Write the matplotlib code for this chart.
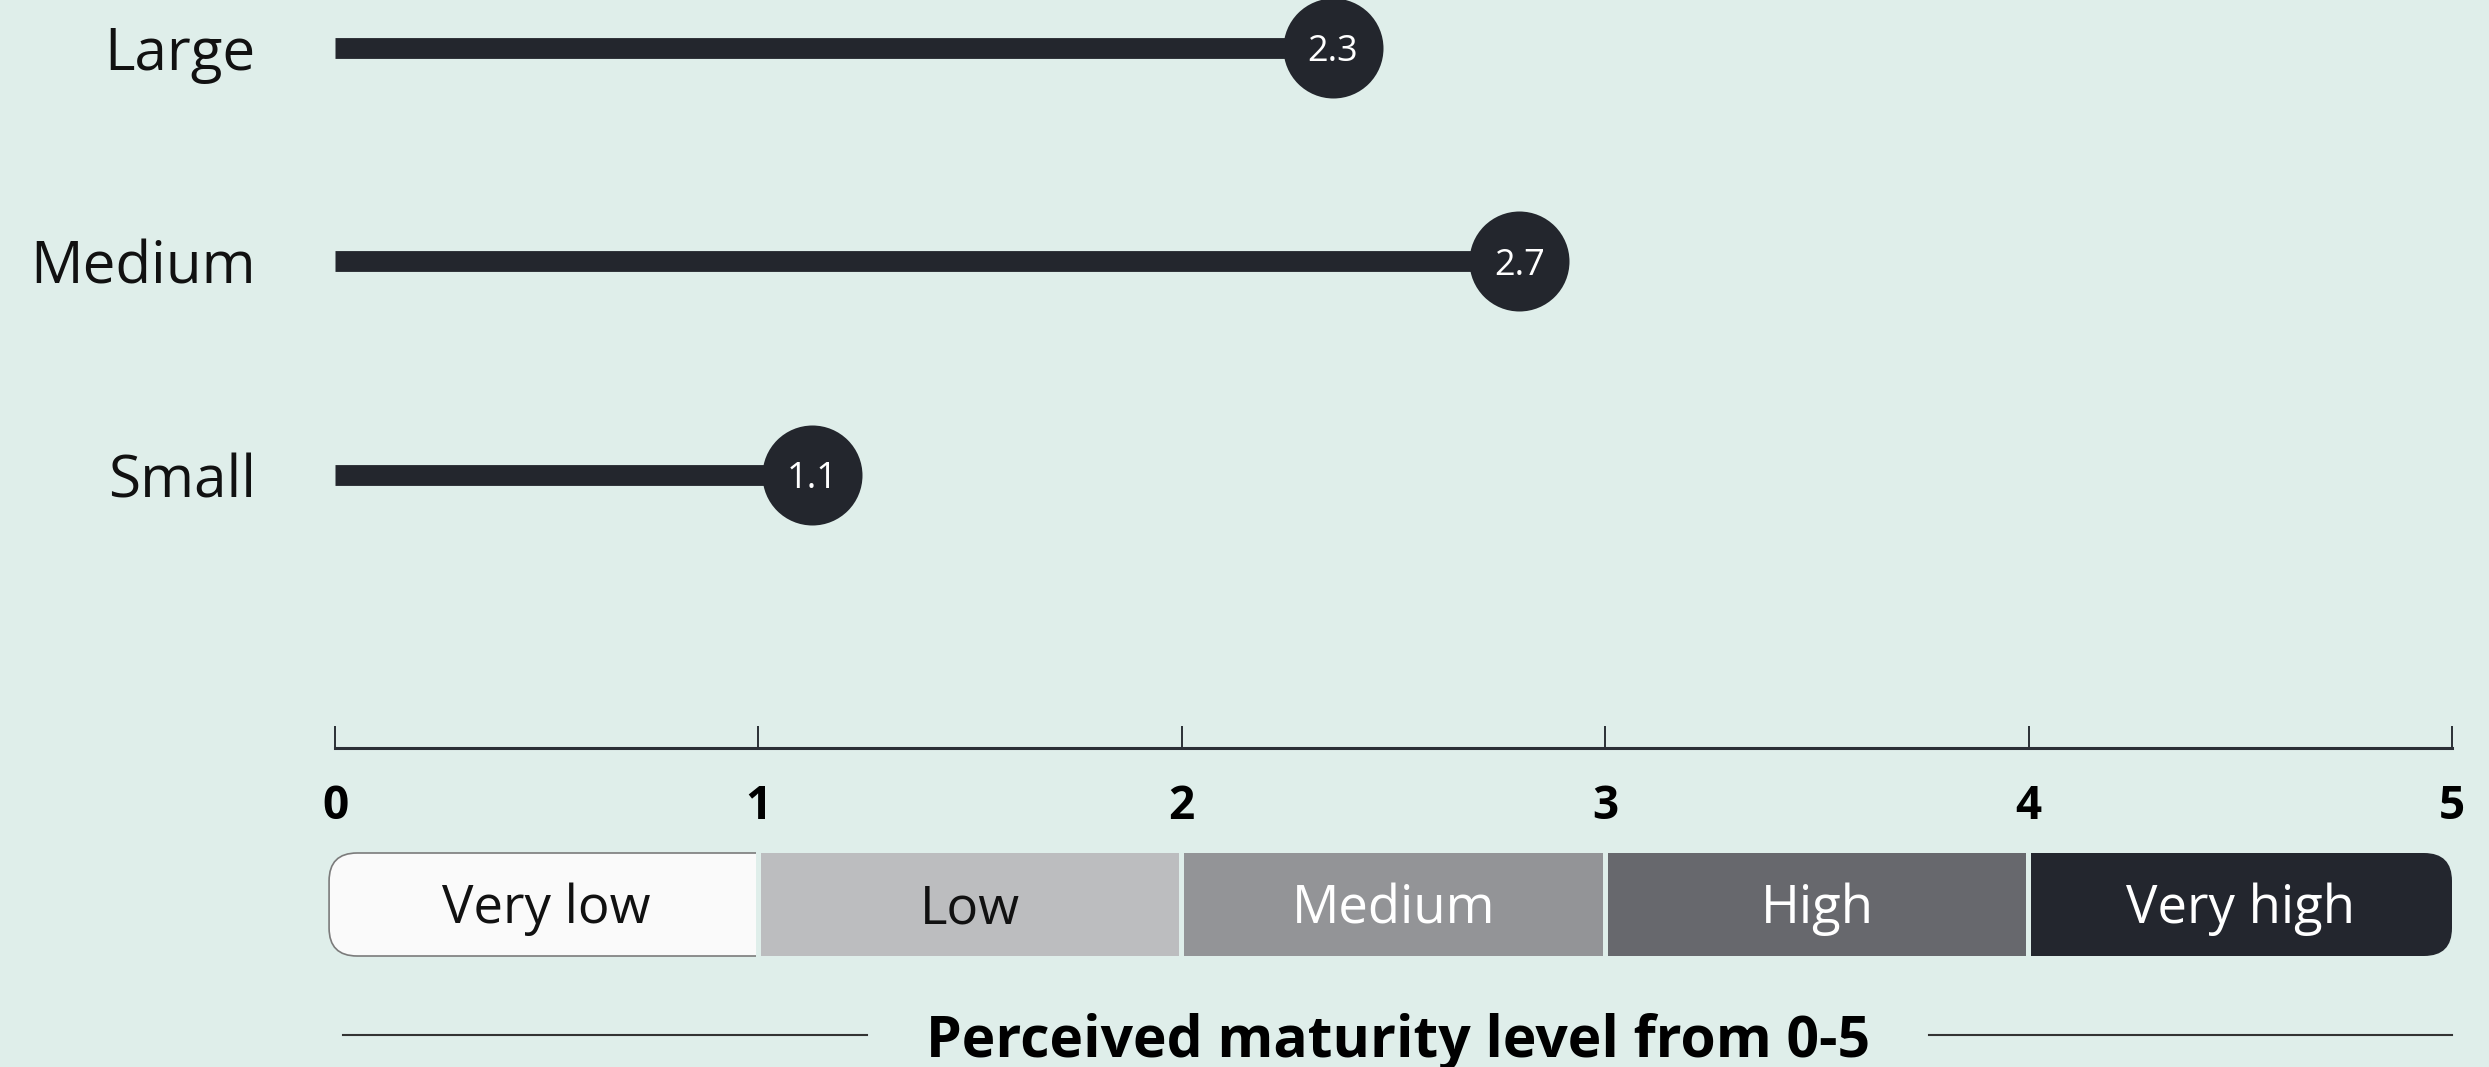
import matplotlib
matplotlib.use("Agg")
import matplotlib.pyplot as plt
from matplotlib.patches import FancyBboxPatch, Rectangle

# ---------------- data ----------------
categories = ["Small", "Medium", "Large"]
values = [1.1, 2.73, 2.3]
value_labels = ["1.1", "2.7", "2.3"]
scale_ticks = [0, 1, 2, 3, 4, 5]
level_names = ["Very low", "Low", "Medium", "High", "Very high"]
level_colors = ["#fafafa", "#bcbdbf", "#939497", "#67686d", "#23262e"]
level_text_colors = ["#111111", "#111111", "#ffffff", "#ffffff", "#ffffff"]
axis_title = "Perceived maturity level from 0-5"

BG = "#dfeeea"
DARK = "#23262d"

plt.rcParams["font.family"] = ["Open Sans", "DejaVu Sans"]

W, H = 2489, 1067
fig = plt.figure(figsize=(W / 100, H / 100), dpi=100)
fig.patch.set_facecolor(BG)


def px_rect(x0, y0, x1, y1):
    return [x0 / W, 1 - y1 / H, (x1 - x0) / W, (y1 - y0) / H]


# ---------------- top: lollipops ----------------
ax = fig.add_axes(px_rect(335, 0, 2452, 600))
ax.patch.set_alpha(0)
ax.set_xlim(0, 4.88)
ax.set_ylim(-0.5855, 2.2248)
ypos = list(range(len(categories)))
ax.hlines(ypos, 0, values, color=DARK, lw=15, capstyle="butt", zorder=2)
ax.plot(values, ypos, "o", ms=72, color=DARK, mec="none", clip_on=False, zorder=3)
for v, y, lab in zip(values, ypos, value_labels):
    ax.text(v, y, lab, ha="center", va="center_baseline", color="white",
            fontsize=26, zorder=4, clip_on=False)
ax.set_yticks(ypos, categories)
ax.tick_params(axis="y", length=0, pad=57, labelsize=42, labelcolor="#111111")
ax.set_xticks([])
for s in ax.spines.values():
    s.set_visible(False)

# ---------------- bottom: scale ----------------
axb = fig.add_axes(px_rect(335, 700, 2452, 1067))
axb.patch.set_alpha(0)
axb.set_xlim(0, 5)
axb.set_ylim(1067, 700)
for k, s in axb.spines.items():
    s.set_visible(k == "bottom")
axb.spines["bottom"].set_position(("data", 748))
axb.spines["bottom"].set_linewidth(2.2)
axb.spines["bottom"].set_color("#2b2f36")
axb.set_xticks(scale_ticks)
axb.set_xticklabels([str(t) for t in scale_ticks], fontweight="bold", fontsize=33)
axb.tick_params(axis="x", direction="in", length=16, width=1.4, color="#2b2f36",
                pad=25, labelcolor="#000000")
axb.set_yticks([])

# band
upx = 2117 / 5.0          # pixels per x unit
gap = 5 / upx
r = 28 / upx
band_top, band_h = 853, 103
n = len(level_names)
for i, (name, fc, tc) in enumerate(zip(level_names, level_colors, level_text_colors)):
    x0 = i + gap / 2 if i > 0 else -0.014
    x1 = i + 1 - gap / 2 if i < n - 1 else 5.0
    if i == 0 or i == n - 1:
        if i == 0:
            bx, bw = x0, (x1 - x0) + 0.3
            cx, cw = x0 - 0.1, (x1 - x0) + 0.1
            ec = "#7b7b7b"
        else:
            bx, bw = x0 - 0.3, (x1 - x0) + 0.3
            cx, cw = x0, (x1 - x0) + 0.1
            ec = "none"
        p = FancyBboxPatch((bx, band_top), bw, band_h,
                           boxstyle=f"round,pad=0,rounding_size={r}",
                           mutation_aspect=upx, fc=fc, ec=ec, lw=1.2)
        axb.add_patch(p)
        clip = Rectangle((cx, band_top - 10), cw, band_h + 20,
                         transform=axb.transData)
        p.set_clip_on(True)
        p.set_clip_path(clip)
    else:
        axb.add_patch(Rectangle((x0, band_top), x1 - x0, band_h, fc=fc, ec="none",
                                clip_on=False))
    axb.text(i + 0.5, 923, name, ha="center", va="baseline", fontsize=38, color=tc)

# axis title with side rules
axb.text(2.51, 1057, axis_title, ha="center", va="baseline", fontsize=41,
         fontweight="bold", color="#000000", clip_on=False)
axb.plot([0.019, 1.256], [1035, 1035], color="#333333", lw=1.5, clip_on=False)
axb.plot([3.765, 5.0], [1035, 1035], color="#333333", lw=1.5, clip_on=False)

fig.savefig("out.png", dpi=100, facecolor=BG)
